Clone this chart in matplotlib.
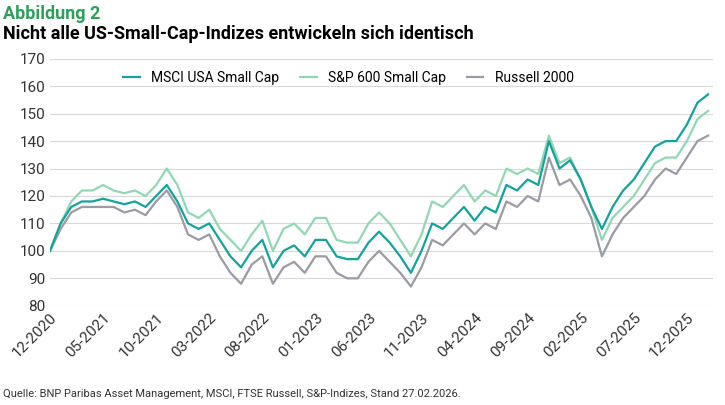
import matplotlib.pyplot as plt
import numpy as np

plt.rcParams['font.family'] = ['Liberation Sans Narrow', 'Roboto', 'DejaVu Sans']

months = ['12-2020', '01-2021', '02-2021', '03-2021', '04-2021', '05-2021', '06-2021', '07-2021',
          '08-2021', '09-2021', '10-2021', '11-2021', '12-2021', '01-2022', '02-2022', '03-2022',
          '04-2022', '05-2022', '06-2022', '07-2022', '08-2022', '09-2022', '10-2022', '11-2022',
          '12-2022', '01-2023', '02-2023', '03-2023', '04-2023', '05-2023', '06-2023', '07-2023',
          '08-2023', '09-2023', '10-2023', '11-2023', '12-2023', '01-2024', '02-2024', '03-2024',
          '04-2024', '05-2024', '06-2024', '07-2024', '08-2024', '09-2024', '10-2024', '11-2024',
          '12-2024', '01-2025', '02-2025', '03-2025', '04-2025', '05-2025', '06-2025', '07-2025',
          '08-2025', '09-2025', '10-2025', '11-2025', '12-2025', '01-2026', '02-2026']

msci = [100, 110, 116, 118, 118, 119, 118, 117, 118, 116, 120, 124, 118, 110, 108, 110,
        104, 98, 94, 100, 104, 94, 100, 102, 98, 104, 104, 98, 97, 97, 103, 107,
        103, 98, 92, 100, 110, 108, 112, 116, 111, 116, 114, 124, 122, 126, 124, 140,
        130, 133, 126, 116, 108, 116, 122, 126, 132, 138, 140, 140, 146, 154, 157]
sp600 = [100, 110, 118, 122, 122, 124, 122, 121, 122, 120, 124, 130, 124, 114, 112, 115,
         108, 104, 100, 106, 111, 100, 108, 110, 106, 112, 112, 104, 103, 103, 110, 114,
         110, 104, 98, 106, 118, 116, 120, 124, 118, 122, 120, 130, 128, 130, 128, 142,
         132, 134, 126, 116, 104, 112, 116, 120, 126, 132, 134, 134, 140, 148, 151]
russell = [100, 108, 114, 116, 116, 116, 116, 114, 115, 113, 118, 122, 116, 106, 104, 106,
           98, 92, 88, 95, 98, 88, 94, 96, 92, 98, 98, 92, 90, 90, 96, 100,
           96, 92, 87, 94, 104, 102, 106, 110, 106, 110, 108, 118, 116, 120, 118, 134,
           124, 126, 120, 112, 98, 106, 112, 116, 120, 126, 130, 128, 134, 140, 142]

x = np.arange(len(months))

fig = plt.figure(figsize=(7.25, 4.05), dpi=100)
ax = fig.add_axes([0.069, 0.245, 0.915, 0.61])

ax.plot(x, russell, color='#9a9ba3', lw=1.6, label='Russell 2000')
ax.plot(x, sp600, color='#93d6b4', lw=1.6, label='S&P 600 Small Cap')
ax.plot(x, msci, color='#16a19a', lw=1.6, label='MSCI USA Small Cap')

ax.set_ylim(80, 170)
ax.set_yticks(range(80, 171, 10))
ax.set_xlim(0, len(months) - 0.5)
ax.set_xticks(x[::5])
ax.set_xticklabels(months[::5], rotation=45, ha='right', rotation_mode='anchor')
ax.tick_params(axis='both', length=0, labelsize=11, colors='#333333')
ax.grid(axis='y', color='#d9d9d9', lw=0.8)
ax.set_axisbelow(True)
for s in ax.spines.values():
    s.set_visible(False)

h, l = ax.get_legend_handles_labels()
ax.legend(h[::-1], l[::-1], loc='upper center', ncol=3, frameon=False, fontsize=10,
          handlelength=1.2, columnspacing=1.5, bbox_to_anchor=(0.45, 1.0))

fig.text(0.004, 0.965, 'Abbildung 2', color='#2e9e5a', fontsize=13, fontweight='bold', va='center')
fig.text(0.004, 0.915, 'Nicht alle US-Small-Cap-Indizes entwickeln sich identisch', color='black',
         fontsize=13, fontweight='bold', va='center')
fig.text(0.004, 0.02, 'Quelle: BNP Paribas Asset Management, MSCI, FTSE Russell, S&P-Indizes, Stand 27.02.2026.',
         color='#333333', fontsize=8)

fig.savefig('out.png', dpi=100)
